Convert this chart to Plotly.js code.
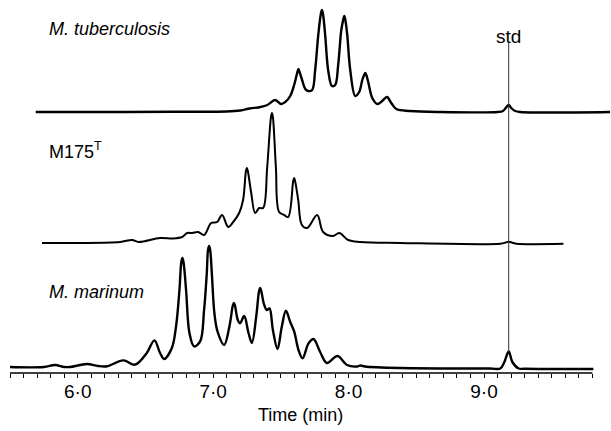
<!DOCTYPE html>
<html>
<head>
<meta charset="utf-8">
<script src="https://cdn.plot.ly/plotly-3.0.1.min.js"></script>
<style>html,body{margin:0;padding:0;background:#fff;}#chart{width:611px;height:431px;}</style>
</head>
<body>
<div id="chart"></div>
<script>
// ---- Data (time in min, detector signal above each trace's baseline) ----
const tbTime = [5.69, 6.20, 6.70, 7.10, 7.20, 7.27, 7.35, 7.40, 7.458, 7.502, 7.532, 7.569, 7.598, 7.622, 7.630, 7.638, 7.657, 7.680, 7.702, 7.731, 7.753, 7.776, 7.795, 7.803, 7.811, 7.827, 7.849, 7.877, 7.901, 7.923, 7.946, 7.960, 7.968, 7.976, 7.990, 8.012, 8.049, 8.078, 8.101, 8.115, 8.123, 8.131, 8.145, 8.175, 8.212, 8.248, 8.283, 8.315, 8.352, 8.455, 8.677, 9.10, 9.14, 9.16, 9.182, 9.20, 9.23, 9.27, 9.93];
const tbSignal = [0, 0, 0.3, 0.5, 1.5, 3.5, 5, 7, 12, 8, 10, 16, 27, 40, 43, 40, 32, 23, 21, 22, 42, 77, 98, 102, 98, 77, 42, 26, 27, 47, 82, 92, 96, 92, 77, 42, 16, 20, 32, 37, 39, 37, 30, 14, 8, 11, 15, 9, 3, 1, 0, 0, 1, 4, 7, 4, 1, 0, 0];

const m175Time = [5.736, 6.00, 6.313, 6.401, 6.45, 6.608, 6.704, 6.771, 6.808, 6.845, 6.889, 6.933, 6.985, 7.029, 7.066, 7.111, 7.148, 7.192, 7.221, 7.242, 7.249, 7.256, 7.281, 7.310, 7.340, 7.369, 7.399, 7.427, 7.434, 7.441, 7.463, 7.487, 7.524, 7.554, 7.591, 7.598, 7.605, 7.628, 7.655, 7.694, 7.768, 7.812, 7.884, 7.931, 7.997, 8.086, 8.381, 9.120, 9.160, 9.182, 9.210, 9.240, 9.586];
const m175Signal = [0, 0, 1, 3, 1, 5, 4.5, 6, 10, 10, 11, 8, 20, 21, 28, 16, 21, 30, 43, 72, 75, 72, 50, 30, 35, 35, 76, 126, 130, 126, 76, 31, 28, 26, 62, 65, 62, 43, 18, 15, 28, 11, 7, 10, 3, 1, 0, -0.7, 0.5, 1.3, 0.3, -0.7, -0.8];

const marTime = [5.500, 5.75, 5.832, 5.90, 5.943, 6.069, 6.150, 6.217, 6.337, 6.424, 6.510, 6.566, 6.608, 6.638, 6.695, 6.726, 6.751, 6.765, 6.773, 6.781, 6.800, 6.825, 6.859, 6.904, 6.933, 6.953, 6.962, 6.970, 6.978, 6.990, 7.009, 7.032, 7.081, 7.120, 7.146, 7.153, 7.160, 7.182, 7.199, 7.229, 7.261, 7.286, 7.318, 7.339, 7.347, 7.355, 7.377, 7.397, 7.416, 7.441, 7.475, 7.507, 7.537, 7.569, 7.598, 7.630, 7.660, 7.704, 7.741, 7.790, 7.840, 7.918, 7.988, 8.062, 8.086, 8.12, 8.381, 9.046, 9.120, 9.150, 9.182, 9.209, 9.256, 9.30, 9.807];
const marSignal = [0, 0, 2, 0, 0, 3, 1, 0.7, 6.6, 2.3, 14, 26.6, 14, 8, 19, 40.6, 77, 105, 109, 105, 77, 34, 20.6, 25.6, 57, 94, 117, 121, 117, 94, 54, 35.6, 22, 40.6, 62, 64, 62, 47, 43.7, 51, 34, 24, 50.6, 76, 79, 76, 62, 57, 58.6, 37, 18, 40.6, 56.3, 45, 35.6, 17, 8.6, 23.6, 28, 15, 4, 11, 2, 0.5, 1.5, 0.5, -1, -1.5, -1.5, 5, 15.6, 5, -1.5, -1.7, -2];

const seriesNames = ['M. tuberculosis', 'M175<sup>T</sup>', 'M. marinum'];
const stdTime = 9.182;
const xMajorTicks = [6, 7, 8, 9];
const xTickLabels = ['6·0', '7·0', '8·0', '9·0'];
const xAxisTitle = 'Time (min)';
const stdLabel = 'std';

// ---- Layout constants (vertical stacking offsets, styles) ----
const offsets = [261, 130, 6];
const FONT = 'Arial, "Liberation Sans", Helvetica, sans-serif';
const xStart = 5.5, xEnd = 9.8;

const minorVals = [];
for (let i = 0; i <= Math.round((xEnd - xStart) * 10); i++) {
  const v = +(xStart + i / 10).toFixed(1);
  if (xMajorTicks.indexOf(v) < 0) minorVals.push(v);
}

function shifted(sig, off) { return sig.map(v => v + off); }

const lineStyle = (w) => ({color: '#000', width: w, shape: 'spline', smoothing: 1});
const traces = [
  {x: tbTime, y: shifted(tbSignal, offsets[0]), mode: 'lines', line: lineStyle(2.4), hoverinfo: 'skip'},
  {x: m175Time, y: shifted(m175Signal, offsets[1]), mode: 'lines', line: lineStyle(2.0), hoverinfo: 'skip'},
  {x: marTime, y: shifted(marSignal, offsets[2]), mode: 'lines', line: lineStyle(2.4), hoverinfo: 'skip'}
];

const labelFont = {family: FONT, size: 18, color: '#000'};
const layout = {
  width: 611, height: 431,
  margin: {l: 10, r: 1, t: 0, b: 58},
  paper_bgcolor: '#fff', plot_bgcolor: '#fff',
  showlegend: false,
  xaxis: {
    range: [5.5, 9.93], tickmode: 'array', tickvals: xMajorTicks, ticktext: xTickLabels,
    ticks: 'outside', ticklen: 4, tickwidth: 1, tickcolor: '#000', ticklabelstandoff: -3,
    minor: {tickmode: 'array', tickvals: minorVals, ticks: 'outside', ticklen: 4, tickwidth: 1, tickcolor: '#000', showgrid: false},
    showgrid: false, zeroline: false, showline: false,
    tickfont: {family: FONT, size: 19, color: '#000'},
    fixedrange: true
  },
  yaxis: {range: [0, 373], visible: false, fixedrange: true},
  shapes: [
    {type: 'line', xref: 'x', yref: 'paper', x0: xStart, x1: xEnd, y0: 0, y1: 0, line: {color: '#000', width: 1.5}},
    {type: 'line', xref: 'x', yref: 'y', x0: stdTime, x1: stdTime, y0: 330, y1: 21, line: {color: '#333', width: 1}}
  ],
  annotations: [
    {x: 5.77, y: 344, xref: 'x', yref: 'y', xanchor: 'left', yanchor: 'middle', showarrow: false, text: '<i>' + seriesNames[0] + '</i>', font: labelFont},
    {x: 5.77, y: 223, xref: 'x', yref: 'y', xanchor: 'left', yanchor: 'middle', showarrow: false, text: seriesNames[1], font: labelFont},
    {x: 5.77, y: 81, xref: 'x', yref: 'y', xanchor: 'left', yanchor: 'middle', showarrow: false, text: '<i>' + seriesNames[2] + '</i>', font: labelFont},
    {x: stdTime, y: 337, xref: 'x', yref: 'y', xanchor: 'center', yanchor: 'middle', showarrow: false, text: stdLabel, font: {family: FONT, size: 19, color: '#000'}},
    {x: 300 / 611, y: 16 / 431, xref: 'paper', yref: 'paper', xanchor: 'center', yanchor: 'middle', showarrow: false, text: xAxisTitle, font: {family: FONT, size: 18, color: '#000'}}
  ]
};
// paper coords for the title: convert from figure fraction to plot-area fraction
layout.annotations[4].x = (300 - 10) / 600;
layout.annotations[4].y = -(415 - 373) / 373;

Plotly.newPlot('chart', traces, layout, {staticPlot: true, displayModeBar: false});
</script>
</body>
</html>
